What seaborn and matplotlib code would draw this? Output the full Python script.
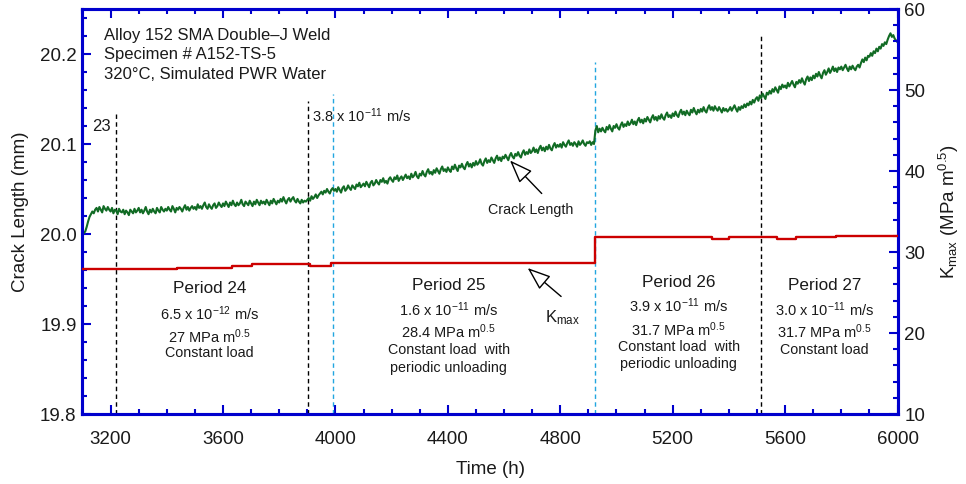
import numpy as np
import pandas as pd
import matplotlib
matplotlib.use("Agg")
import matplotlib.pyplot as plt
import seaborn as sns

# ---- data -------------------------------------------------------------
# crack-length readings every 5 h, given as growth above 20.000 mm (in µm);
# each row covers 50 h
hours = list(range(3100, 6001, 5))
crack_growth_um = [
    0, 1, 3, 8, 14, 19, 22, 25, 23, 27,
    29, 25, 30, 27, 24, 31, 28, 26, 30, 27,
    25, 29, 23, 27, 26, 22, 28, 25, 24, 27,
    22, 26, 24, 21, 27, 25, 23, 28, 24, 26,
    29, 24, 27, 23, 26, 30, 25, 22, 27, 24,
    28, 25, 23, 29, 26, 24, 30, 27, 25, 28,
    26, 30, 27, 25, 31, 28, 24, 29, 27, 30,
    28, 25, 29, 32, 27, 30, 26, 29, 31, 28,
    30, 27, 33, 29, 31, 28, 32, 35, 30, 28,
    33, 30, 28, 32, 34, 29, 31, 35, 32, 30,
    34, 31, 36, 33, 30, 35, 32, 37, 33, 31,
    35, 32, 34, 38, 33, 31, 36, 34, 32, 37,
    34, 31, 36, 33, 38, 35, 32, 37, 34, 36,
    33, 38, 35, 32, 37, 34, 39, 36, 33, 37,
    35, 39, 36, 41, 37, 34, 38, 40, 36, 39,
    41, 37, 35, 39, 36, 34, 38, 35, 37, 36,
    38, 40, 37, 42, 39, 41, 44, 40, 43, 45,
    47, 44, 48, 46, 50, 47, 45, 49, 51, 48,
    50, 47, 52, 49, 46, 51, 53, 48, 50, 54,
    51, 49, 54, 52, 50, 55, 53, 57, 52, 54,
    56, 53, 58, 55, 52, 57, 59, 54, 56, 60,
    57, 55, 60, 58, 62, 57, 59, 56, 61, 63,
    60, 58, 63, 61, 65, 59, 62, 64, 60, 63,
    66, 62, 64, 61, 67, 63, 65, 69, 64, 62,
    67, 65, 70, 66, 64, 69, 72, 67, 69, 66,
    71, 68, 73, 70, 67, 72, 75, 70, 72, 69,
    74, 71, 69, 75, 72, 77, 73, 70, 76, 74,
    78, 74, 72, 77, 80, 75, 78, 74, 79, 76,
    81, 77, 79, 83, 78, 76, 81, 84, 79, 82,
    80, 85, 82, 79, 84, 87, 82, 85, 81, 86,
    84, 88, 85, 82, 87, 90, 86, 84, 89, 87,
    91, 87, 85, 90, 93, 88, 91, 89, 94, 90,
    92, 96, 91, 94, 90, 95, 98, 93, 96, 92,
    97, 94, 99, 95, 93, 98, 101, 96, 99, 97,
    100, 96, 102, 99, 97, 101, 104, 99, 101, 98,
    102, 100, 97, 103, 99, 101, 104, 100, 98, 102,
    101, 103, 99, 102, 100, 115, 120, 113, 117, 114,
    118, 115, 113, 119, 116, 121, 117, 114, 120, 118,
    122, 118, 116, 121, 124, 119, 122, 120, 125, 121,
    123, 127, 122, 125, 121, 126, 129, 124, 127, 123,
    128, 125, 130, 127, 124, 129, 132, 127, 130, 126,
    131, 128, 133, 129, 127, 132, 135, 130, 132, 129,
    134, 131, 136, 132, 130, 135, 138, 133, 136, 132,
    137, 134, 132, 138, 135, 140, 136, 133, 138, 135,
    139, 136, 141, 137, 135, 140, 143, 138, 141, 137,
    142, 139, 137, 141, 138, 135, 140, 137, 139, 136,
    138, 141, 137, 140, 143, 139, 136, 141, 138, 142,
    140, 144, 141, 145, 143, 147, 144, 149, 146, 150,
    152, 148, 154, 151, 156, 153, 150, 157, 155, 159,
    156, 161, 158, 163, 160, 157, 164, 161, 166, 163,
    165, 162, 168, 164, 167, 170, 166, 163, 169, 167,
    171, 168, 173, 169, 166, 172, 175, 170, 174, 171,
    176, 173, 178, 175, 180, 176, 173, 179, 182, 177,
    180, 184, 179, 182, 186, 181, 184, 180, 185, 183,
    186, 182, 185, 188, 184, 181, 186, 183, 187, 184,
    182, 186, 188, 185, 190, 194, 191, 196, 193, 198,
    197, 201, 198, 203, 201, 206, 203, 208, 206, 211,
    209, 213, 211, 216, 220, 223, 219, 221, 217, 215,
    213,
]

# Kmax history (step changes)
kmax_hours = [3100, 3340, 3435, 3631, 3702, 3910, 3983, 4922, 5340, 5400, 5570, 5640, 5780, 6000]
kmax_values = [27.95, 27.85, 28.0, 28.3, 28.5, 28.25, 28.65, 31.8, 31.6, 31.8, 31.6, 31.8, 32.0, 32.0]

# period boundaries (dashed markers): hour, top of line (mm), colour key
marker_hours = [3220, 3903, 3992, 4922, 5516]
marker_tops = [20.133, 20.148, 20.156, 20.191, 20.222]
marker_kinds = ["black", "black", "cyan", "cyan", "black"]

period_names = ["Period 24", "Period 25", "Period 26", "Period 27"]
period_rates = ["6.5 x 10$^{\\mathregular{-12}}$ m/s", "1.6 x 10$^{\\mathregular{-11}}$ m/s",
                "3.9 x 10$^{\\mathregular{-11}}$ m/s", "3.0 x 10$^{\\mathregular{-11}}$ m/s"]
period_kmax = ["27", "28.4", "31.7", "31.7"]
period_modes = [["Constant load"],
                ["Constant load  with", "periodic unloading"],
                ["Constant load  with", "periodic unloading"],
                ["Constant load"]]
period_centers = [3553, 4403, 5222, 5741]

x_ticks = [3200, 3600, 4000, 4400, 4800, 5200, 5600, 6000]

# ---- style ------------------------------------------------------------
sns.set_style("white")
plt.rcParams["font.family"] = ["Liberation Sans", "DejaVu Sans"]
plt.rcParams["mathtext.fontset"] = "custom"
plt.rcParams["mathtext.rm"] = "Liberation Sans"
plt.rcParams["mathtext.it"] = "Liberation Sans:italic"
plt.rcParams["mathtext.bf"] = "Liberation Sans:bold"

AXIS_BLUE = "#0000CD"
GREEN = "#116B24"
RED = "#CC0000"
CYAN = "#22A6E0"
TXT = "#1a1a1a"

crack_df = pd.DataFrame({"Time (h)": hours,
                         "Crack Length (mm)": 20.0 + np.array(crack_growth_um) / 1000.0})
kmax_df = pd.DataFrame({"Time (h)": kmax_hours, "Kmax": kmax_values})

fig = plt.figure(figsize=(9.66, 4.84), dpi=100)
ax = fig.add_axes([0.0854, 0.1446, 0.8437, 0.8368])
ax2 = ax.twinx()

sns.lineplot(data=crack_df, x="Time (h)", y="Crack Length (mm)", ax=ax,
             color=GREEN, lw=1.5, zorder=3)
sns.lineplot(data=kmax_df, x="Time (h)", y="Kmax", ax=ax2,
             color=RED, lw=1.7, drawstyle="steps-post", zorder=3)

# dashed period markers
for h, top, kind in zip(marker_hours, marker_tops, marker_kinds):
    ax.plot([h, h], [19.8, top], color="black" if kind == "black" else CYAN,
            lw=1.0, ls=(0, (3.2, 2.4)), zorder=2)

# limits and ticks
ax.set_xlim(3100, 6000)
ax.set_ylim(19.8, 20.25)
ax2.set_ylim(10, 60)
ax.set_xticks(x_ticks)
ax.set_xticks(range(3100, 6001, 100), minor=True)
ax.set_yticks([19.8, 19.9, 20.0, 20.1, 20.2])
ax.set_yticklabels(["19.8", "19.9", "20.0", "20.1", "20.2"])
ax.set_yticks(np.arange(19.8, 20.2501, 0.02), minor=True)
ax2.set_yticks([10, 20, 30, 40, 50, 60])
ax2.set_yticks(range(10, 61, 2), minor=True)

for a in (ax, ax2):
    for s in a.spines.values():
        s.set_color(AXIS_BLUE)
        s.set_linewidth(2.2)
ax.tick_params(axis="both", which="both", direction="in", color=AXIS_BLUE,
               labelcolor=TXT, labelsize=13.5, width=1.5)
ax.tick_params(axis="x", which="both", top=True, bottom=True, pad=12.5)
ax.tick_params(axis="y", which="both", left=True, right=False, pad=4.3)
ax.tick_params(which="major", length=6.8)
ax.tick_params(which="minor", length=3.8)
ax2.tick_params(axis="y", which="both", direction="in", color=AXIS_BLUE,
                labelcolor=TXT, labelsize=13.5, width=1.5, pad=5,
                right=True, left=False)
ax2.tick_params(which="major", length=6.8)
ax2.tick_params(which="minor", length=3.8)

ax.set_xlabel("Time (h)", fontsize=13.5, color=TXT, labelpad=9)
ax.set_ylabel("Crack Length (mm)", fontsize=13.5, color=TXT, labelpad=8)
ax2.set_ylabel("$\\mathregular{K_{max}}$ (MPa m$^{\\mathregular{0.5}}$)", fontsize=13.5,
               color=TXT, rotation=90, labelpad=8)

# specimen description
for txt, y in zip(["Alloy 152 SMA Double\u2013J Weld", "Specimen # A152-TS-5",
                   "320\u00b0C, Simulated PWR Water"], [20.2206, 20.1994, 20.1772]):
    ax.text(3176, y, txt, fontsize=12, color=TXT, ha="left", va="center")

ax.text(3169, 20.1194, "23", fontsize=12, color=TXT, ha="center", va="center")
ax.text(3916, 20.1317, "3.8 x 10$^{\\mathregular{-11}}$ m/s", fontsize=10.5,
        color=TXT, ha="left", va="center")

# period annotations
name_y = [19.9394, 19.9428, 19.946, 19.9428]
rate_y = [19.9117, 19.9164, 19.9206, 19.9164]
k_y = [19.886, 19.891, 19.894, 19.891]
mode_y = [[19.8676], [19.8706, 19.851], [19.8744, 19.856], [19.8706]]
for i in range(4):
    cx = period_centers[i]
    ax.text(cx, name_y[i], period_names[i], fontsize=12.3, color=TXT, ha="center", va="center")
    ax.text(cx, rate_y[i], period_rates[i], fontsize=10.5, color=TXT, ha="center", va="center")
    ax.text(cx, k_y[i], period_kmax[i] + " MPa m$^{\\mathregular{0.5}}$", fontsize=10.5,
            color=TXT, ha="center", va="center")
    for line, y in zip(period_modes[i], mode_y[i]):
        ax.text(cx, y, line, fontsize=10.3, color=TXT, ha="center", va="center")

# curve labels with hollow arrows
arrow = dict(arrowstyle="-|>,head_length=0.8,head_width=0.3", fc="white", ec="black",
             lw=1.0, mutation_scale=18, shrinkA=0, shrinkB=0)
ax.annotate("", xy=(4621, 20.0817), xytext=(4734, 20.045), arrowprops=arrow, zorder=5)
ax.text(4696, 20.0272, "Crack Length", fontsize=10.3, color=TXT, ha="center", va="center")
ax.annotate("", xy=(4684, 19.9622), xytext=(4803, 19.9306), arrowprops=arrow, zorder=5)
ax.text(4809, 19.9072, "$\\mathregular{K_{max}}$", fontsize=12, color=TXT, ha="center", va="center")

fig.savefig("out.png", dpi=100)
